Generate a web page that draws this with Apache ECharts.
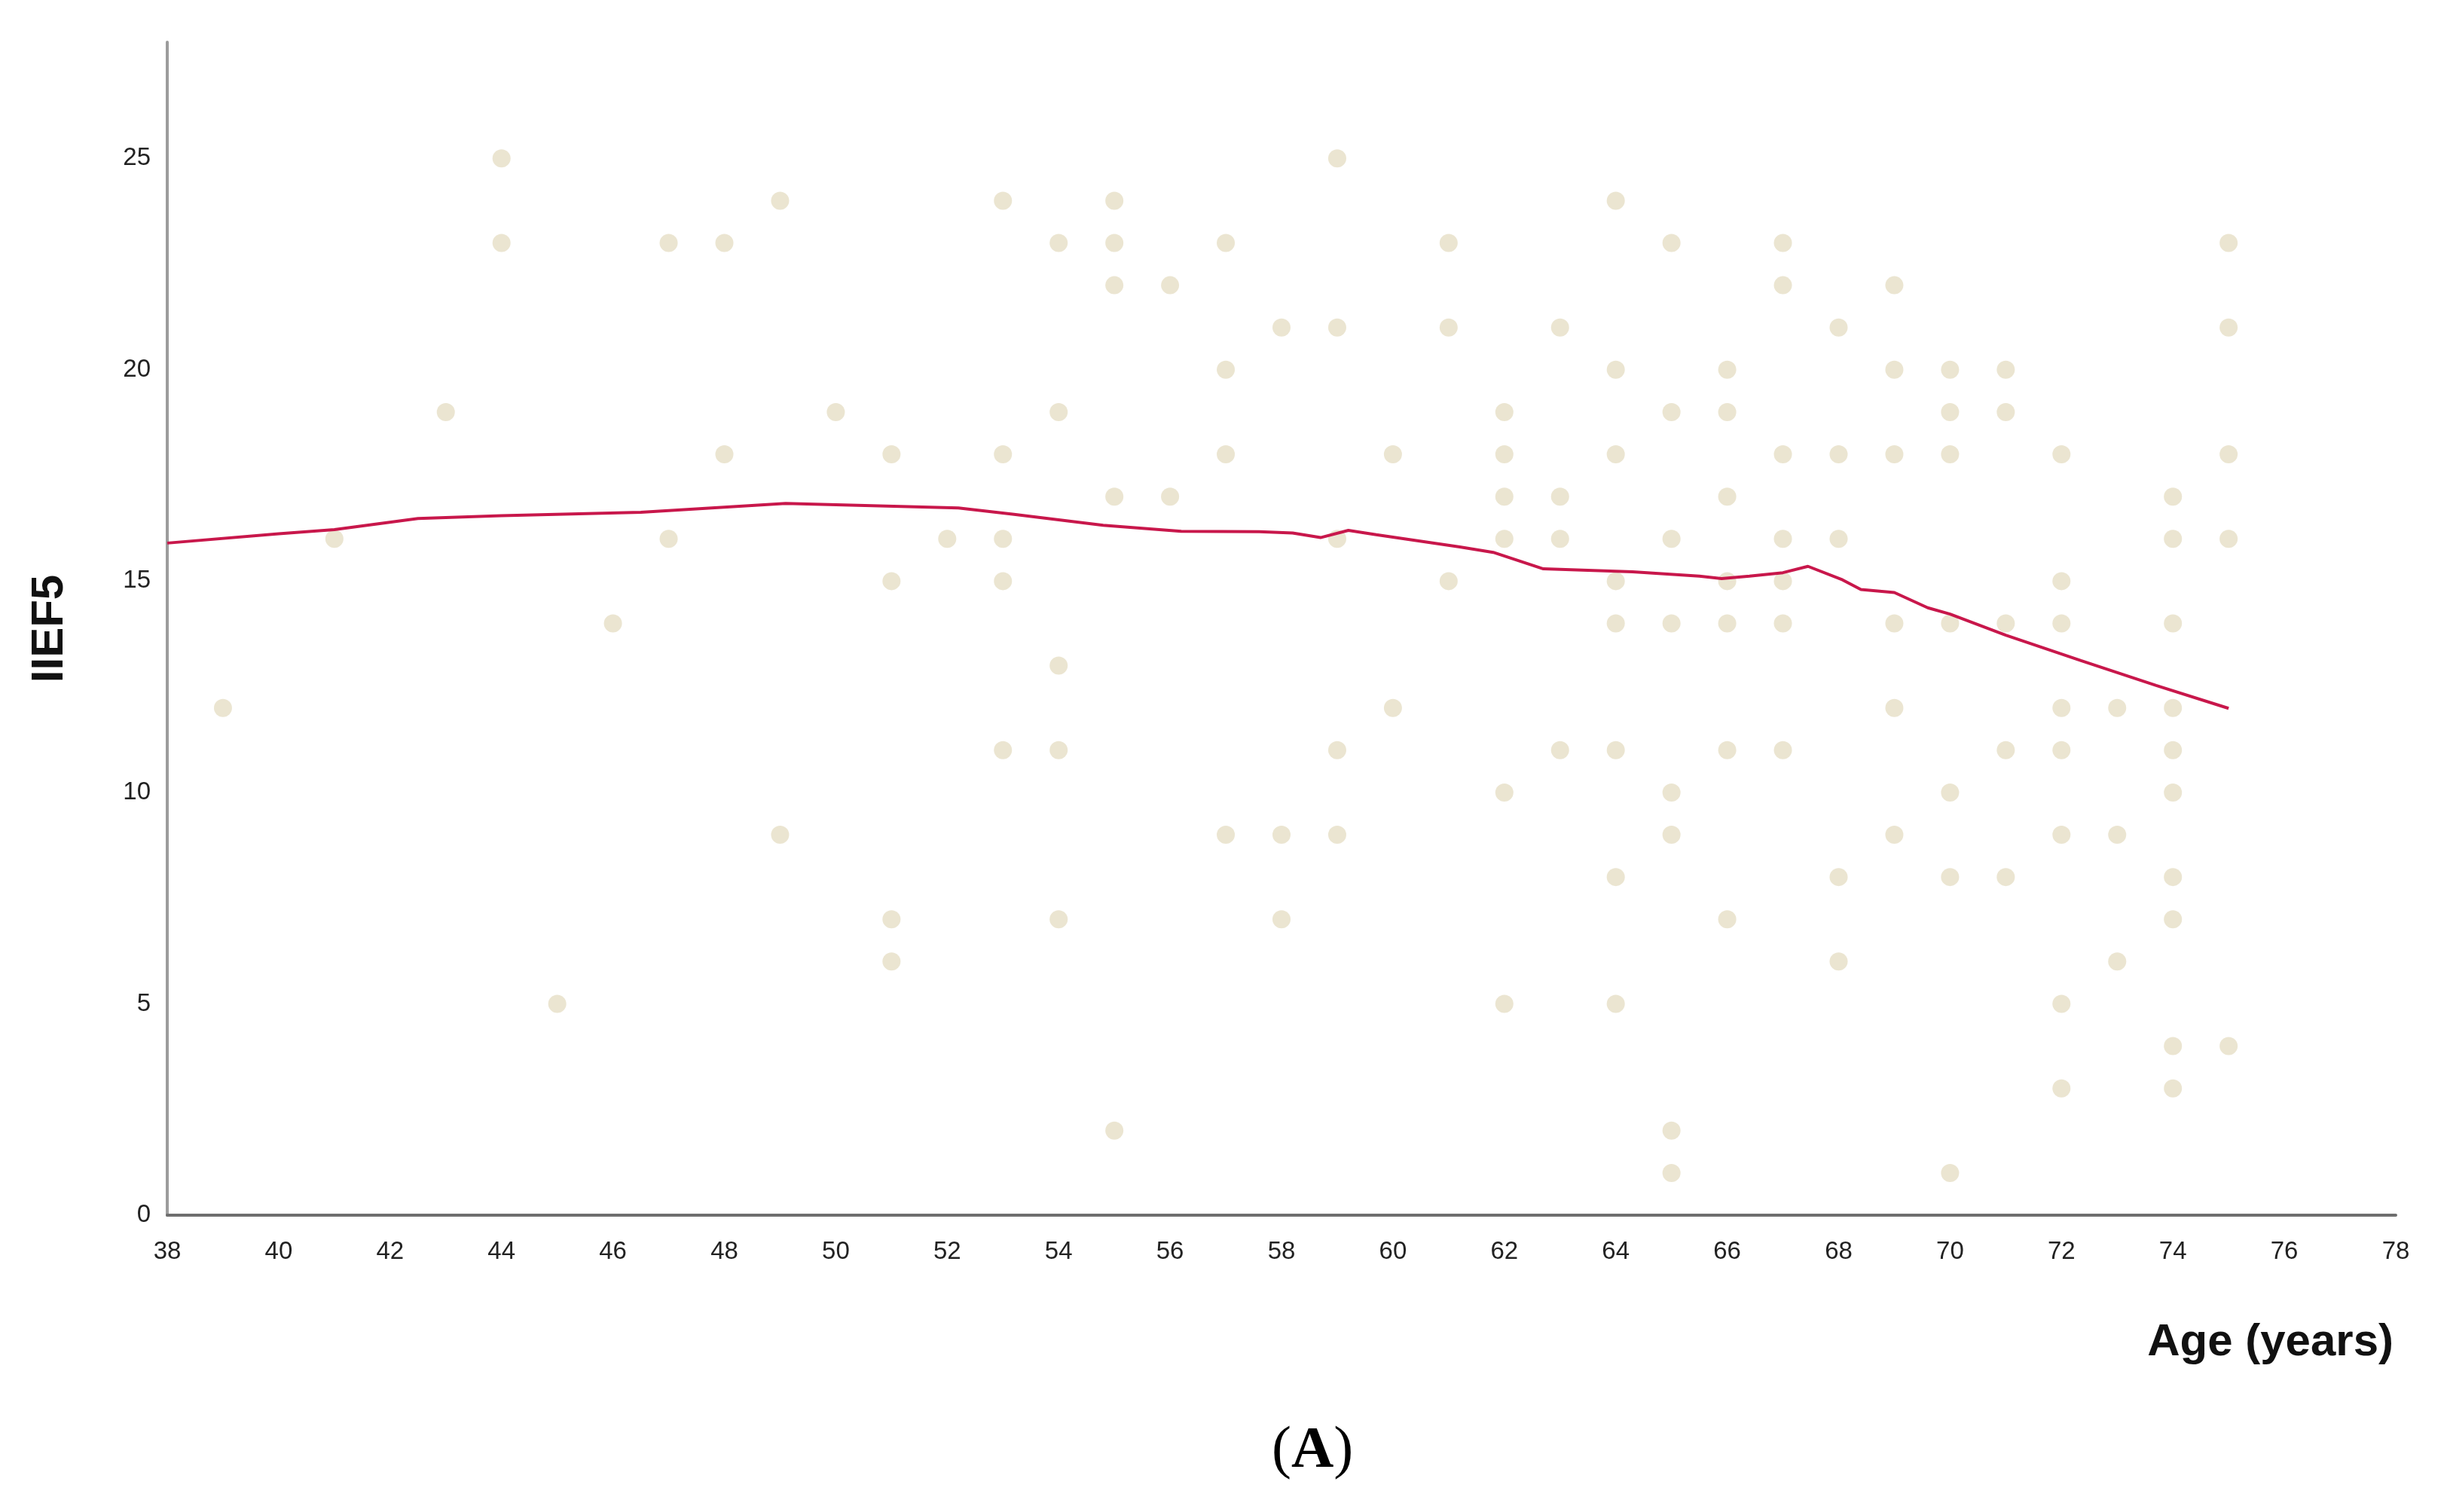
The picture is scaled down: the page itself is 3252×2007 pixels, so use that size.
<!DOCTYPE html>
<html>
<head>
<meta charset="utf-8">
<script src="https://cdn.jsdelivr.net/npm/echarts@6/dist/echarts.min.js"></script>
<style>
html,body{margin:0;padding:0;background:#fff;}
#chart{width:3252px;height:2007px;}
</style>
</head>
<body>
<div id="chart"></div>
<script>
// Scatter observations (age, IIEF5 score)
const ages = [
  39, 41, 43, 44, 44, 45, 46, 47, 47, 48, 48, 49, 49, 50,
  51, 51, 51, 51, 52,
  53, 53, 53, 53, 53,
  54, 54, 54, 54, 54,
  55, 55, 55, 55, 55,
  56, 56,
  57, 57, 57, 57,
  58, 58, 58,
  59, 59, 59, 59, 59,
  60, 60,
  61, 61, 61,
  62, 62, 62, 62, 62, 62,
  63, 63, 63, 63,
  64, 64, 64, 64, 64, 64, 64, 64,
  65, 65, 65, 65, 65, 65, 65, 65,
  66, 66, 66, 66, 66, 66, 66,
  67, 67, 67, 67, 67, 67, 67,
  68, 68, 68, 68, 68,
  69, 69, 69, 69, 69, 69,
  70, 70, 70, 70, 70, 70, 70,
  71, 71, 71, 71, 71,
  72, 72, 72, 72, 72, 72, 72, 72,
  73, 73, 73,
  74, 74, 74, 74, 74, 74, 74, 74, 74, 74,
  75, 75, 75, 75, 75
];
const scores = [
  12, 16, 19, 25, 23, 5, 14, 23, 16, 23, 18, 24, 9, 19,
  18, 15, 7, 6, 16,
  24, 18, 16, 15, 11,
  23, 19, 13, 11, 7,
  24, 23, 22, 17, 2,
  22, 17,
  23, 20, 18, 9,
  21, 9, 7,
  25, 21, 16, 11, 9,
  18, 12,
  23, 21, 15,
  19, 18, 17, 16, 10, 5,
  21, 17, 16, 11,
  24, 20, 18, 15, 14, 11, 8, 5,
  23, 19, 16, 14, 10, 9, 2, 1,
  20, 19, 17, 15, 14, 11, 7,
  23, 22, 18, 16, 15, 14, 11,
  21, 18, 16, 8, 6,
  22, 20, 18, 14, 12, 9,
  20, 19, 18, 14, 10, 8, 1,
  20, 19, 14, 11, 8,
  18, 15, 14, 12, 11, 9, 5, 3,
  12, 9, 6,
  17, 16, 14, 12, 11, 10, 8, 7, 4, 3,
  23, 21, 18, 16, 4
];
// Fit line
const fitAges = [38, 40, 41, 42.5, 44, 46.5, 49.1, 52.2, 53.2, 54.8, 56.2, 57.6, 58.2, 58.7, 59.2, 59.7, 61.2, 61.8, 62.7, 64.3, 65.5, 65.9, 66.4, 67, 67.45, 68.07, 68.4, 69, 69.6, 70, 71, 72.35, 73.7, 75];
const fitValues = [15.9, 16.12, 16.22, 16.48, 16.55, 16.63, 16.84, 16.73, 16.58, 16.32, 16.18, 16.17, 16.14, 16.03, 16.2, 16.1, 15.81, 15.68, 15.29, 15.22, 15.12, 15.06, 15.12, 15.2, 15.35, 15.03, 14.8, 14.73, 14.37, 14.22, 13.72, 13.12, 12.53, 11.99];
// Axis settings
const xMin = 38, xMax = 78, xStep = 2;
const yMin = 0, yMax = 27.75, yStep = 5;

const scatterData = ages.map((a, i) => [a, scores[i]]);
const lineData = fitAges.map((a, i) => [a, fitValues[i]]);

const chart = echarts.init(document.getElementById('chart'), null, {renderer: 'canvas'});
chart.setOption({
  animation: false,
  backgroundColor: '#ffffff',
  grid: {left: 222, right: 72, top: 56, bottom: 394, containLabel: false},
  xAxis: {
    type: 'value', min: xMin, max: xMax, interval: xStep,
    axisLine: {show: true, onZero: false, lineStyle: {color: '#6e6e6e', width: 4}},
    axisTick: {show: false},
    splitLine: {show: false},
    axisLabel: {margin: 32, fontSize: 33, color: '#222', fontFamily: 'Liberation Sans, Arial, sans-serif'}
  },
  yAxis: {
    type: 'value', min: yMin, max: yMax, interval: yStep,
    name: 'IIEF5', nameLocation: 'middle', nameRotate: 90, nameGap: 126,
    nameTextStyle: {fontSize: 60, fontWeight: 'bold', color: '#111', fontFamily: 'Liberation Sans, Arial, sans-serif'},
    axisLine: {show: true, lineStyle: {color: '#9c9c9c', width: 4}},
    axisTick: {show: false},
    splitLine: {show: false},
    axisLabel: {
      margin: 22, fontSize: 33, color: '#222', fontFamily: 'Liberation Sans, Arial, sans-serif',
      formatter: v => (v % yStep === 0 ? String(v) : '')
    }
  },
  graphic: [
    {type: 'text', right: 75, top: 1752,
      style: {text: 'Age (years)', fontSize: 60, fontWeight: 'bold', fill: '#111', fontFamily: 'Liberation Sans, Arial, sans-serif'}},
    {type: 'text', left: 1688, top: 1888,
      style: {text: '{p|(}{a|A}{p|)}', fill: '#000',
        rich: {p: {fontSize: 78, fontFamily: 'Liberation Serif, Times New Roman, serif'},
               a: {fontSize: 78, fontWeight: 'bold', fontFamily: 'Liberation Serif, Times New Roman, serif'}}}}
  ],
  series: [
    {type: 'scatter', data: scatterData, symbol: 'circle', symbolSize: 24,
      itemStyle: {color: '#e6dec6'}, z: 2},
    {type: 'line', data: lineData, showSymbol: false, smooth: false,
      lineStyle: {color: '#c8174b', width: 4}, z: 3}
  ]
});
</script>
</body>
</html>
